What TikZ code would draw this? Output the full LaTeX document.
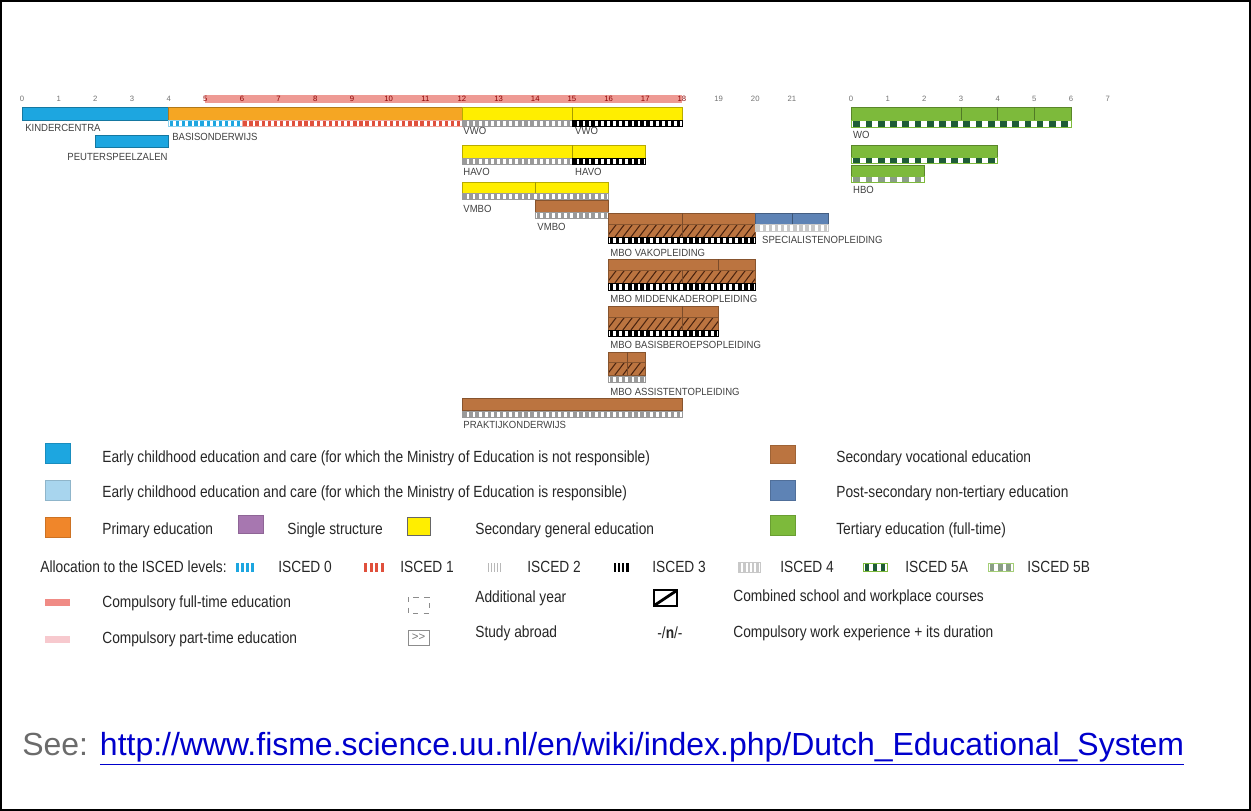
\documentclass[tikz,border=0pt]{standalone}
\usepackage{fontspec}
\setmainfont{Liberation Sans}
\newfontfamily\legendfont[FakeStretch=0.85]{Liberation Sans}
\newfontfamily\barfont[FakeStretch=0.92]{Liberation Sans}

\definecolor{kidblue}{HTML}{1DA6E0}
\definecolor{paleblue}{HTML}{A8D5EE}
\definecolor{primorange}{HTML}{F5A623}
\definecolor{legorange}{HTML}{F0862A}
\definecolor{genyellow}{HTML}{FFEE00}
\definecolor{vocbrown}{HTML}{BB7440}
\definecolor{postblue}{HTML}{5E83B5}
\definecolor{tertgreen}{HTML}{7DBA3B}
\definecolor{checkgreen}{HTML}{1E5C36}
\definecolor{fivebgreen}{HTML}{8A9E86}
\definecolor{singlepurple}{HTML}{A777B0}
\definecolor{fullred}{HTML}{EE9A94}
\definecolor{partpink}{HTML}{F7C9CE}
\definecolor{iscedgrey}{HTML}{9A9A9A}
\definecolor{iscedred}{HTML}{E0503C}
\definecolor{iscedpale}{HTML}{C8C8C8}
\definecolor{hatchbrown}{HTML}{4A2410}
\definecolor{linkblue}{HTML}{0000CC}
\definecolor{seegrey}{HTML}{6B6B6B}

% strip of ISCED marks: from, to, top, bottom, bar colour, frame colour, bars per unit
\newcommand\iscedstrip[7]{%
  \fill[white] (#1,#3) rectangle (#2,#4);
  \pgfmathtruncatemacro\nbars{round((#2-#1)*#7)}
  \foreach \k in {1,...,\nbars}
    \fill[#5] ({#1+(\k-0.8)/#7},#3) rectangle ({#1+(\k-0.25)/#7},#4);
  \draw[#6,line width=0.3pt] (#1,#3) rectangle (#2,#4);
}
% hatched part for school and workplace courses: from, to, top, bottom
\newcommand\hatchband[4]{%
  \fill[vocbrown] (#1,#3) rectangle (#2,#4);
  \begin{scope}
    \clip (#1,#3) rectangle (#2,#4);
    \foreach \h in {0,0.22,...,4.6}
      \draw[hatchbrown,line width=0.6pt] ({#1+\h-0.27},#4) -- ({#1+\h},#3);
  \end{scope}
  \draw[vocbrown!72!black,line width=0.3pt] (#1,#3) rectangle (#2,#4);
}

\begin{document}
\begin{tikzpicture}[x=0.02cm,y=-0.02cm,
  band/.style={fill=#1,draw=#1!72!black,line width=0.3pt},
  divider/.style={draw=#1!65!black,line width=0.35pt},
  barlabel/.style={font=\barfont\fontsize{5.9}{6}\selectfont,text=black!75,anchor=west,inner sep=0pt},
  yearnum/.style={font=\fontsize{4.4}{5}\selectfont,text=black!55,inner sep=0pt},
  legtext/.style={font=\legendfont\fontsize{9.2}{10}\selectfont,text=black!85,anchor=west,inner sep=0pt},
  swatch/.style={fill=#1,draw=#1!85!black,line width=0.3pt}]
\useasboundingbox (0,0) rectangle (1251,811);
\draw[line width=1.2pt] (0.6,0.6) rectangle (1250.4,810.4);

% school years
\begin{scope}[shift={(22,0)},x=0.7334cm]
  \fill[fullred] (5,95.5) rectangle (18,103);
  \foreach \n in {0,...,4,19,20,21} \node[yearnum] (age\n) at (\n,99) {\n};
  \foreach \n in {5,...,18} \node[yearnum,text=red!55!black] (age\n) at (\n,99) {\n};

  % early childhood and primary
  \filldraw[band=kidblue] (0,107) rectangle (4,120);
  \node[barlabel] (kinder) at (0.08,128) {KINDERCENTRA};
  \filldraw[band=kidblue] (2,135) rectangle (4,147);
  \node[barlabel,anchor=east] (peuter) at (3.98,157) {PEUTERSPEELZALEN};
  \filldraw[band=primorange] (4,107) rectangle (12,120);
  \iscedstrip{4}{6}{120}{126}{kidblue}{kidblue!50}{6}
  \iscedstrip{6}{12}{120}{126}{iscedred}{iscedred!50}{6}
  \node[barlabel] (basis) at (4.09,137) {BASISONDERWIJS};

  % general secondary
  \filldraw[band=genyellow] (12,107) rectangle (18,120);
  \draw[divider=genyellow] (15,107) -- (15,120);
  \iscedstrip{12}{15}{120}{126}{iscedgrey}{iscedgrey}{6}
  \iscedstrip{15}{18}{120}{126}{black}{black}{6}
  \node[barlabel] (vwoA) at (12.03,131) {VWO};
  \node[barlabel] (vwoB) at (15.08,131) {VWO};

  \filldraw[band=genyellow] (12,145) rectangle (17,158);
  \draw[divider=genyellow] (15,145) -- (15,158);
  \iscedstrip{12}{15}{158}{164}{iscedgrey}{iscedgrey}{6}
  \iscedstrip{15}{17}{158}{164}{black}{black}{6}
  \node[barlabel] (havoA) at (12.03,172) {HAVO};
  \node[barlabel] (havoB) at (15.08,172) {HAVO};

  \filldraw[band=genyellow] (12,182) rectangle (16,193);
  \draw[divider=genyellow] (14,182) -- (14,193);
  \iscedstrip{12}{16}{193}{199}{iscedgrey}{iscedgrey}{6}
  \node[barlabel] (vmboA) at (12.03,209) {VMBO};
  \filldraw[band=vocbrown] (14,200) rectangle (16,212);
  \iscedstrip{14}{16}{212}{218}{iscedgrey}{iscedgrey}{6}
  \node[barlabel] (vmboB) at (14.05,227) {VMBO};

  % vocational
  \filldraw[band=vocbrown] (16,213) rectangle (20,224);
  \hatchband{16}{20}{224}{237}
  \draw[divider=vocbrown] (18,213) -- (18,237);
  \iscedstrip{16}{20}{237}{243}{black}{black}{6}
  \node[barlabel] (mboVak) at (16.04,253) {MBO VAKOPLEIDING};

  \filldraw[band=postblue] (20,213) rectangle (22,224);
  \draw[divider=postblue] (21,213) -- (21,224);
  \iscedstrip{20}{22}{224}{231}{iscedpale}{iscedpale}{6}
  \node[barlabel] (spec) at (20.18,240) {SPECIALISTENOPLEIDING};

  \filldraw[band=vocbrown] (16,259) rectangle (20,270);
  \draw[divider=vocbrown] (19,259) -- (19,270);
  \hatchband{16}{20}{270}{283}
  \draw[divider=vocbrown] (18,270) -- (18,283);
  \iscedstrip{16}{20}{283}{290}{black}{black}{6}
  \node[barlabel] (mboMid) at (16.04,299) {MBO MIDDENKADEROPLEIDING};

  \filldraw[band=vocbrown] (16,306) rectangle (19,317);
  \hatchband{16}{19}{317}{330}
  \draw[divider=vocbrown] (18,306) -- (18,330);
  \iscedstrip{16}{19}{330}{336}{black}{black}{6}
  \node[barlabel] (mboBasis) at (16.04,345) {MBO BASISBEROEPSOPLEIDING};

  \filldraw[band=vocbrown] (16,352) rectangle (17,362);
  \hatchband{16}{17}{362}{375}
  \draw[divider=vocbrown] (16.5,352) -- (16.5,375);
  \iscedstrip{16}{17}{376}{382}{iscedgrey}{iscedgrey}{6}
  \node[barlabel] (mboAss) at (16.04,392) {MBO ASSISTENTOPLEIDING};

  \filldraw[band=vocbrown] (12,398) rectangle (18,410);
  \iscedstrip{12}{18}{411}{417}{iscedgrey}{iscedgrey}{6}
  \node[barlabel] (prakt) at (12.03,425) {PRAKTIJKONDERWIJS};
\end{scope}

% years of tertiary study
\begin{scope}[shift={(851,0)},x=0.7334cm]
  \foreach \n in {0,...,7} \node[yearnum] (ter\n) at (\n,99) {\n};
  \filldraw[band=tertgreen] (0,107) rectangle (6,120);
  \foreach \d in {3,4,5} \draw[divider=tertgreen] (\d,107) -- (\d,120);
  \iscedstrip{0}{6}{120}{127}{checkgreen}{tertgreen}{3}
  \node[barlabel] (wo) at (0.05,135) {WO};
  \filldraw[band=tertgreen] (0,145) rectangle (4,157);
  \iscedstrip{0}{4}{157}{163}{checkgreen}{tertgreen}{3}
  \filldraw[band=tertgreen] (0,165) rectangle (2,176);
  \iscedstrip{0}{2}{176}{182}{fivebgreen}{tertgreen}{3}
  \node[barlabel] (hbo) at (0.05,190) {HBO};
\end{scope}

% legend
\filldraw[swatch=kidblue] (45,443) rectangle (70,463);
\node[legtext] (legEceA) at (102,458) {Early childhood education and care (for which the Ministry of Education is not responsible)};
\filldraw[swatch=vocbrown] (770,445) rectangle (795,463);
\node[legtext] (legVoc) at (836,458) {Secondary vocational education};

\filldraw[swatch=paleblue] (45,480) rectangle (70,500);
\node[legtext] (legEceB) at (102,493) {Early childhood education and care (for which the Ministry of Education is responsible)};
\filldraw[swatch=postblue] (770,480) rectangle (795,500);
\node[legtext] (legPost) at (836,493) {Post-secondary non-tertiary education};

\filldraw[swatch=legorange] (45,517) rectangle (70,537);
\node[legtext] (legPrim) at (102,530) {Primary education};
\filldraw[swatch=singlepurple] (238,515) rectangle (263,533);
\node[legtext] (legSingle) at (287,530) {Single structure};
\filldraw[fill=genyellow,draw=black!60,line width=0.4pt] (407,517) rectangle (430,535);
\node[legtext] (legGen) at (475,530) {Secondary general education};
\filldraw[swatch=tertgreen] (770,515) rectangle (795,535);
\node[legtext] (legTert) at (836,530) {Tertiary education (full-time)};

\node[legtext] (legAlloc) at (40,567) {Allocation to the ISCED levels:};
\iscedstrip{235}{255}{562}{572}{kidblue}{white}{0.2}
\node[legtext] (legIsA) at (278,567) {ISCED 0};
\iscedstrip{363}{385}{562}{572}{iscedred}{white}{0.18}
\node[legtext] (legIsB) at (400,567) {ISCED 1};
\iscedstrip{487}{502}{562}{572}{iscedgrey!70}{white}{0.33}
\node[legtext] (legIsC) at (527,567) {ISCED 2};
\iscedstrip{613}{630}{562}{572}{black}{white}{0.24}
\node[legtext] (legIsD) at (652,567) {ISCED 3};
\iscedstrip{738}{760}{562}{572}{iscedpale}{iscedpale}{0.23}
\node[legtext] (legIsE) at (780,567) {ISCED 4};
\iscedstrip{863}{887}{563}{571}{checkgreen}{tertgreen}{0.125}
\node[legtext] (legIsF) at (905,567) {ISCED 5A};
\iscedstrip{988}{1013}{563}{571}{fivebgreen}{tertgreen!70}{0.12}
\node[legtext] (legIsG) at (1027,567) {ISCED 5B};

\fill[fullred!90!red] (45,599) rectangle (70,606);
\node[legtext] (legFull) at (102,603) {Compulsory full-time education};
\draw[black!45,dashed,line width=0.4pt] (408,597) rectangle (429,613);
\node[legtext] (legAdd) at (475,598) {Additional year};
\draw[line width=0.8pt] (654,590) rectangle (677,606);
\draw[line width=1.6pt] (655,605) -- (676,591);
\node[legtext] (legComb) at (733,597) {Combined school and workplace courses};

\fill[partpink] (45,636) rectangle (70,643);
\node[legtext] (legPart) at (102,639) {Compulsory part-time education};
\draw[black!45,line width=0.4pt] (408,630) rectangle (429,645);
\node[font=\fontsize{6.5}{7}\selectfont,text=black!55,inner sep=0pt] (legAbroadSym) at (418.5,637.5) {{>}{>}};
\node[legtext] (legAbroad) at (475,633) {Study abroad};
\node[legtext] (legWorkSym) at (657,633) {-/\textbf{n}/-};
\node[legtext] (legWork) at (733,633) {Compulsory work experience + its duration};

% reference
\node[anchor=west,inner sep=0pt,font=\fontsize{18.2}{20}\selectfont] (seeRef) at (22,749)
  {\textcolor{seegrey}{See: }\textcolor{linkblue}{\underline{http://www.fisme.science.uu.nl/en/wiki/index.php/Dutch\_Educational\_System}}};
\end{tikzpicture}
\end{document}
